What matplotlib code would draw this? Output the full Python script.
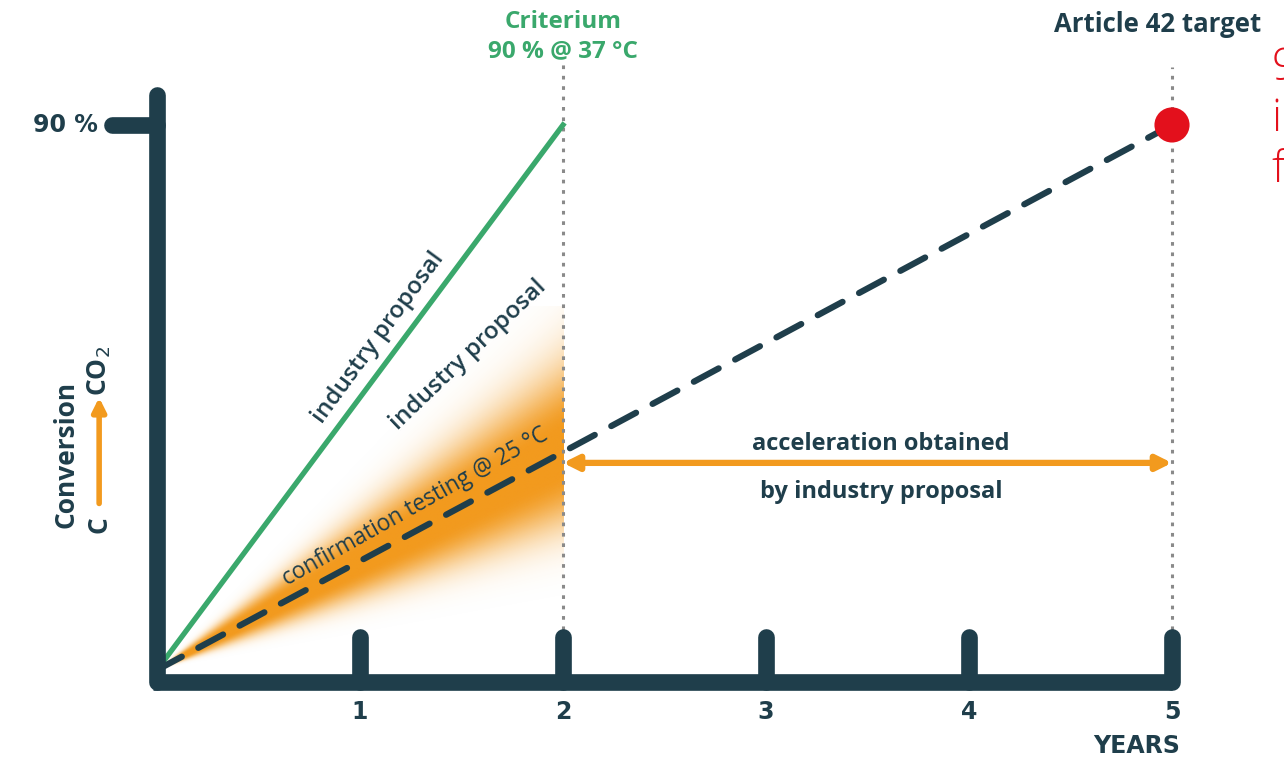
import numpy as np
import matplotlib.pyplot as plt
from matplotlib.colors import to_rgb

# years / conversion (%)
years_ticks = [1, 2, 3, 4, 5]
target_level = 90
criterium_x = [0, 2]
criterium_y = [0, 90]
article_x = [0, 5]
article_y = [0, 90]
accel_from, accel_to, accel_level = 2, 5, 34.2

NAVY = '#1f3e4b'
GREEN = '#3aa86c'
ORANGE = '#f29a1e'
RED = '#e3101c'
GREY = '#8a8a8a'

plt.rcParams['font.family'] = ['Open Sans', 'DejaVu Sans']

fig = plt.figure(figsize=(12.84, 7.6), dpi=100)
ax = fig.add_axes([0, 0, 1, 1])
# 1 year = 203 px, 1 % = 6.056 px, origin at (157, 670)
PX_X, PX_Y = 203.0, 6.056
ax.set_xlim(-157 / PX_X, (1284 - 157) / PX_X)
ax.set_ylim(-(760 - 670) / PX_Y, 670 / PX_Y)
ax.axis('off')

# orange glow around the 25 °C confirmation line
xs = np.linspace(0, 2, 400)
ys = np.linspace(0, 60, 400)
X, Y = np.meshgrid(xs, ys)
ang = np.degrees(np.arctan2(Y * PX_Y, X * PX_X + 1e-9))
centre = np.degrees(np.arctan2(article_y[1] / article_x[1] * PX_Y, PX_X))
d = np.abs(ang - centre)
alpha = np.exp(-0.5 * (np.clip(d - 2.5, 0, None) / 4.6) ** 2)
rgba = np.zeros(X.shape + (4,))
rgba[..., :3] = to_rgb(ORANGE)
rgba[..., 3] = alpha
ax.imshow(rgba, extent=(0, 2, 0, 60), origin='lower', aspect='auto',
          interpolation='bilinear', zorder=1)

# dotted reference verticals
ax.plot([2, 2], [5, 101], ls=(0, (1.2, 2.2)), lw=2.2, color=GREY, zorder=2)
ax.plot([5, 5], [5, 99.5], ls=(0, (1.2, 2.2)), lw=2.2, color=GREY, zorder=2)

# axes drawn as thick rounded bars
ax.plot([0, 0], [-2, 95], lw=12, color=NAVY, solid_capstyle='round', zorder=5)
ax.plot([-0.02, 5.0], [-2, -2], lw=12, color=NAVY, solid_capstyle='butt', zorder=5)
ax.plot([-0.22, 0], [target_level, target_level], lw=12, color=NAVY,
        solid_capstyle='round', zorder=5)
for t in years_ticks:
    ax.plot([t, t], [-2, 5.5], lw=12, color=NAVY, solid_capstyle='round', zorder=5)

# lines
ax.plot(criterium_x, criterium_y, lw=3.8, color=GREEN, zorder=4)
ax.plot(article_x, article_y, lw=4.5, color=NAVY, ls=(0, (4.5, 3.0)),
        dash_capstyle='round', zorder=4)
ax.scatter([article_x[1]], [article_y[1]], s=640, color=RED, zorder=6,
           edgecolors='none')

# acceleration arrow
ax.annotate('', xy=(accel_to, accel_level), xytext=(accel_from, accel_level),
            arrowprops=dict(arrowstyle='<|-|>', color=ORANGE, lw=4.5,
                            mutation_scale=22, shrinkA=0, shrinkB=0), zorder=4)
ax.text(3.567, 37.4, 'acceleration obtained', ha='center', va='center',
        fontsize=17, fontweight='bold', color=NAVY)
ax.text(3.567, 29.4, 'by industry proposal', ha='center', va='center',
        fontsize=17, fontweight='bold', color=NAVY)

# slanted labels
ax.text(1.089, 54.8, 'industry proposal', rotation=53.7, ha='center', va='center',
        fontsize=17.5, fontweight='semibold', color=NAVY, rotation_mode='anchor')
ax.text(1.532, 52.0, 'industry proposal', rotation=43.7, ha='center', va='center',
        fontsize=17.5, fontweight='semibold', color=NAVY, rotation_mode='anchor')
ax.text(1.27, 27.0, 'confirmation testing @ 25 °C', rotation=29.3, ha='center',
        va='center', fontsize=16.3, color=NAVY, rotation_mode='anchor', zorder=3)

# headers
ax.text(2.0, 107.0, 'Criterium', ha='center', va='center', fontsize=17.5,
        fontweight='bold', color=GREEN)
ax.text(2.0, 102.2, '90 % @ 37 °C', ha='center', va='center', fontsize=17.5,
        fontweight='bold', color=GREEN)
ax.text(4.93, 106.6, 'Article 42 target', ha='center', va='center',
        fontsize=18.5, fontweight='bold', color=NAVY)
ax.text(5.49, 103.0, '9\ni\nf', ha='left', va='top', fontsize=32,
        fontweight='light', color=RED, linespacing=1.2, clip_on=False)

# y axis labels
ax.text(-0.29, target_level, '90 %', ha='right', va='center', fontsize=17,
        fontweight='bold', color=NAVY, family=['DejaVu Sans'])
ax.text(-0.45, 35.6, 'Conversion', rotation=90, ha='center', va='center',
        fontsize=19, fontweight='bold', color=NAVY)
ax.text(-0.285, 24.0, 'C', rotation=90, ha='center', va='center',
        fontsize=19, fontweight='bold', color=NAVY)
ax.text(-0.285, 49.3, 'CO$_2$', rotation=90, ha='center', va='center',
        fontsize=19, fontweight='bold', color=NAVY)
ax.annotate('', xy=(-0.285, 45.0), xytext=(-0.285, 27.5),
            arrowprops=dict(arrowstyle='-|>', color=ORANGE, lw=4,
                            mutation_scale=20, shrinkA=0, shrinkB=0))

# x tick labels
for t in years_ticks:
    ax.text(t, -7.0, str(t), ha='center', va='center', fontsize=17,
            fontweight='bold', color=NAVY, family=['DejaVu Sans'])
ax.text(5.04, -12.5, 'YEARS', ha='right', va='center', fontsize=17,
        fontweight='bold', color=NAVY, family=['DejaVu Sans'])

fig.savefig('out.png', dpi=100)
